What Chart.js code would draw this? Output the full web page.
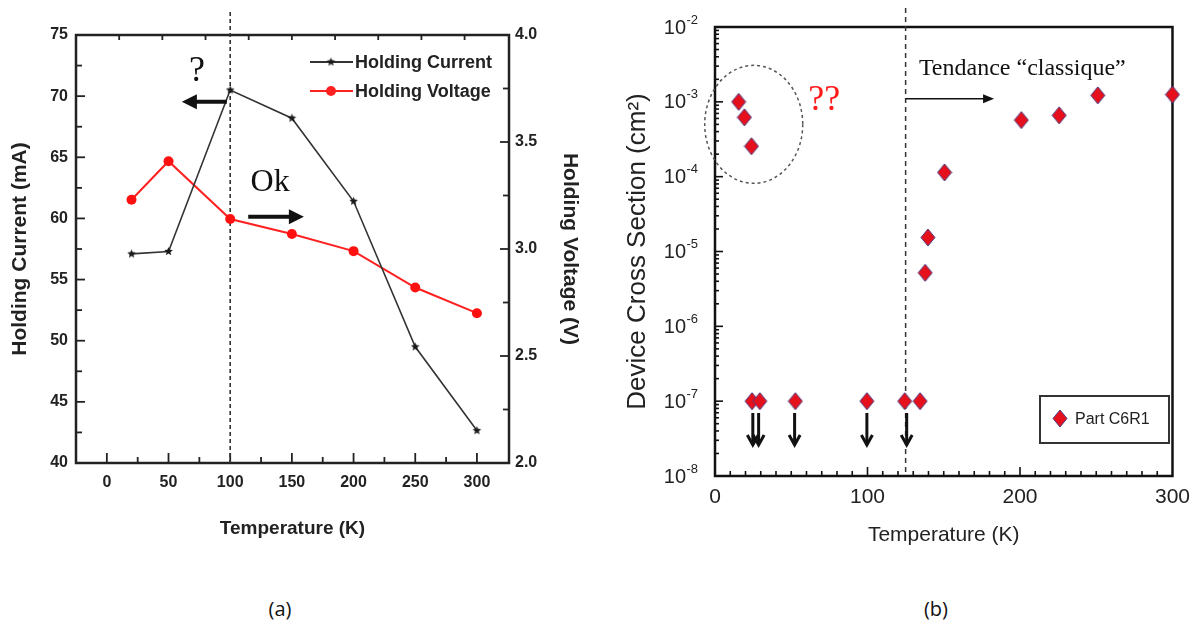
<!DOCTYPE html>
<html>
<head>
<meta charset="utf-8">
<script src="https://cdn.jsdelivr.net/npm/chart.js@4.4.1/dist/chart.umd.min.js"></script>
<style>
  html, body { margin: 0; padding: 0; background: #fff; }
  #wrap { position: relative; width: 1199px; height: 626px; overflow: hidden; background: #fff; }
  #chartA { position: absolute; left: 0; top: 0; }
  #chartB { position: absolute; left: 600px; top: 0; }
  .cap { position: absolute; top: 595px; width: 60px; text-align: center; font: 20px "Open Sans", sans-serif; color: #111; }
</style>
</head>
<body>
<div id="wrap">
  <canvas id="chartA" width="600" height="560"></canvas>
  <canvas id="chartB" width="599" height="560"></canvas>
  <div class="cap" style="left:250px">(a)</div>
  <div class="cap" style="left:906px">(b)</div>
</div>
<script>
// ---- data, panel (a)
const tempA = [20, 50, 100, 150, 200, 250, 300];
const holdingCurrent = [57.1, 57.3, 70.5, 68.2, 61.4, 49.5, 42.65];
const holdingVoltage = [3.23, 3.41, 3.14, 3.07, 2.99, 2.82, 2.70];
const xTicksA = [0, 50, 100, 150, 200, 250, 300];
const yTicksCurrent = [40, 45, 50, 55, 60, 65, 70, 75];
const yTicksVoltage = [2.0, 2.5, 3.0, 3.5, 4.0];
const topTicksA = [10, 45, 80, 115, 150, 185, 220, 255, 290];

// ---- data, panel (b)
const tempB = [15.5, 19.3, 23.9, 137.8, 139.6, 150.5, 200.9, 225.7, 251, 300];
const crossSection = [1.0e-3, 6.2e-4, 2.55e-4, 5.2e-6, 1.54e-5, 1.14e-4, 5.7e-4, 6.6e-4, 1.22e-3, 1.25e-3];
const tempLimit = [24.3, 29.4, 52.7, 99.6, 124.4, 134.5];
const crossLimit = [1e-7, 1e-7, 1e-7, 1e-7, 1e-7, 1e-7];
const arrowTemps = [24.8, 28.6, 52.2, 99.6, 125.7];
const xTicksB = [0, 100, 200, 300];
const yExpB = [-8, -7, -6, -5, -4, -3, -2];

const sans = '"Liberation Sans", Arial, Helvetica, sans-serif';
const serif = '"Liberation Serif", "Times New Roman", serif';
Chart.defaults.font.family = sans;
Chart.defaults.color = '#222';

function makeStar(r, color) {
    const c = document.createElement('canvas');
    const s = Math.ceil(r * 2 + 2);
    c.width = s; c.height = s;
    const g = c.getContext('2d');
    g.translate(s / 2, s / 2);
    g.beginPath();
    for (let i = 0; i < 10; i++) {
        const rr = i % 2 ? r * 0.45 : r;
        const a = -Math.PI / 2 + i * Math.PI / 5;
        g.lineTo(rr * Math.cos(a), rr * Math.sin(a));
    }
    g.closePath();
    g.fillStyle = color;
    g.fill();
    return c;
}

function makeDiamond(w, h) {
    const c = document.createElement('canvas');
    c.width = w + 2; c.height = h + 2;
    const g = c.getContext('2d');
    g.beginPath();
    g.moveTo(1 + w / 2, 1);
    g.lineTo(1 + w, 1 + h / 2);
    g.lineTo(1 + w / 2, 1 + h);
    g.lineTo(1, 1 + h / 2);
    g.closePath();
    g.fillStyle = '#e6101c';
    g.fill();
    g.strokeStyle = '#4a3a80';
    g.lineWidth = 1;
    g.stroke();
    return c;
}

const starImg = makeStar(4.5, '#1a1a1a');
const diamondImg = makeDiamond(14, 17);

function line(ctx, x1, y1, x2, y2) {
    ctx.beginPath();
    ctx.moveTo(x1, y1);
    ctx.lineTo(x2, y2);
    ctx.stroke();
}

function fatArrow(ctx, x1, y, x2, shaft, headLen, headHalf) {
    const dir = Math.sign(x2 - x1);
    ctx.lineWidth = shaft;
    line(ctx, x1, y, x2 - dir * headLen * 0.8, y);
    ctx.beginPath();
    ctx.moveTo(x2, y);
    ctx.lineTo(x2 - dir * headLen, y - headHalf);
    ctx.lineTo(x2 - dir * headLen, y + headHalf);
    ctx.closePath();
    ctx.fill();
}

function mids(arr) {
    const out = [];
    for (let i = 0; i < arr.length - 1; i++) out.push((arr[i] + arr[i + 1]) / 2);
    return out;
}

// ---------- panel (a)
const panelA = {
    id: 'panelA',
    beforeDatasetsDraw(chart) {
        const {ctx, chartArea: a, scales: {x, y, y1}} = chart;
        ctx.save();
        ctx.strokeStyle = '#222';
        ctx.lineWidth = 1.8;
        xTicksA.forEach(v => line(ctx, x.getPixelForValue(v), a.bottom, x.getPixelForValue(v), a.bottom - 10));
        mids(xTicksA).forEach(v => line(ctx, x.getPixelForValue(v), a.bottom, x.getPixelForValue(v), a.bottom - 6));
        topTicksA.forEach(v => line(ctx, x.getPixelForValue(v), a.top, x.getPixelForValue(v), a.top + 5));
        yTicksCurrent.forEach(v => line(ctx, a.left, y.getPixelForValue(v), a.left + 9, y.getPixelForValue(v)));
        mids(yTicksCurrent).forEach(v => line(ctx, a.left, y.getPixelForValue(v), a.left + 6, y.getPixelForValue(v)));
        yTicksVoltage.forEach(v => line(ctx, a.right, y1.getPixelForValue(v), a.right - 9, y1.getPixelForValue(v)));
        mids(yTicksVoltage).forEach(v => line(ctx, a.right, y1.getPixelForValue(v), a.right - 6, y1.getPixelForValue(v)));
        ctx.lineWidth = 2.5;
        ctx.strokeRect(a.left, a.top, a.right - a.left, a.bottom - a.top);

        // dashed marker at 100 K
        ctx.strokeStyle = '#333';
        ctx.lineWidth = 1.6;
        ctx.setLineDash([4, 3]);
        line(ctx, x.getPixelForValue(100), 12, x.getPixelForValue(100), a.bottom);
        ctx.restore();
    },
    afterDraw(chart) {
        const {ctx, scales: {x, y}} = chart;
        ctx.save();
        // legend
        const rows = [
            {label: 'Holding Current', color: '#333', ly: 62, star: true},
            {label: 'Holding Voltage', color: '#ff2020', ly: 91, star: false}
        ];
        rows.forEach(r => {
            ctx.strokeStyle = r.color;
            ctx.lineWidth = r.star ? 2 : 1.8;
            line(ctx, 310, r.ly, 353, r.ly);
            if (r.star) {
                ctx.drawImage(starImg, 331 - starImg.width / 2, r.ly - starImg.height / 2);
            } else {
                ctx.fillStyle = r.color;
                ctx.beginPath();
                ctx.arc(331, r.ly, 5, 0, Math.PI * 2);
                ctx.fill();
            }
            ctx.fillStyle = '#222';
            ctx.font = 'bold 18px ' + sans;
            ctx.textBaseline = 'middle';
            ctx.textAlign = 'left';
            ctx.fillText(r.label, 355, r.ly + 1);
        });

        // annotations
        ctx.fillStyle = '#111';
        ctx.strokeStyle = '#111';
        ctx.textAlign = 'center';
        ctx.font = '36px ' + serif;
        ctx.fillText('?', x.getPixelForValue(73), y.getPixelForValue(72));
        fatArrow(ctx, x.getPixelForValue(97.3), y.getPixelForValue(69.55), x.getPixelForValue(60.8), 4, 15, 7.5);
        ctx.font = '32px ' + serif;
        ctx.fillText('Ok', x.getPixelForValue(132.4), y.getPixelForValue(62.9));
        fatArrow(ctx, x.getPixelForValue(114.6), y.getPixelForValue(60.14), x.getPixelForValue(159.7), 4, 15, 7.5);
        ctx.restore();
    }
};

const tickFontA = {size: 16, weight: 'bold'};
const titleFontA = {size: 21, weight: 'bold'};

new Chart(document.getElementById('chartA'), {
    type: 'line',
    data: {
        datasets: [{
            label: 'Holding Current',
            data: tempA.map((t, i) => ({x: t, y: holdingCurrent[i]})),
            yAxisID: 'y',
            borderColor: '#333',
            borderWidth: 1.6,
            pointStyle: starImg,
            tension: 0,
            clip: false
        }, {
            label: 'Holding Voltage',
            data: tempA.map((t, i) => ({x: t, y: holdingVoltage[i]})),
            yAxisID: 'y1',
            borderColor: '#ff2020',
            backgroundColor: '#ff1010',
            borderWidth: 2,
            pointRadius: 5,
            pointBorderWidth: 0,
            tension: 0,
            clip: false
        }]
    },
    options: {
        responsive: false,
        animation: false,
        events: [],
        layout: {padding: {top: 35, left: 0, right: 16, bottom: 0}},
        plugins: {legend: {display: false}, tooltip: {enabled: false}},
        scales: {
            x: {
                type: 'linear',
                min: -25,
                max: 326,
                grid: {display: false, drawTicks: false},
                border: {display: false},
                afterBuildTicks: s => { s.ticks = xTicksA.map(v => ({value: v})); },
                afterFit: s => { s.height = 97; },
                ticks: {padding: 10, maxRotation: 0, font: tickFontA, color: '#222'},
                title: {display: true, text: 'Temperature (K)', font: {size: 19, weight: 'bold'}, color: '#222', padding: {top: 0, bottom: 20}}
            },
            y: {
                type: 'linear',
                position: 'left',
                min: 40,
                max: 75,
                grid: {display: false, drawTicks: false},
                border: {display: false},
                afterBuildTicks: s => { s.ticks = yTicksCurrent.map(v => ({value: v})); },
                afterFit: s => { s.width = 76; },
                ticks: {padding: 8, font: tickFontA, color: '#222'},
                title: {display: true, text: 'Holding Current (mA)', font: titleFontA, color: '#222', padding: {top: 8, bottom: 0}}
            },
            y1: {
                type: 'linear',
                position: 'right',
                min: 2,
                max: 4,
                grid: {display: false, drawTicks: false},
                border: {display: false},
                afterBuildTicks: s => { s.ticks = yTicksVoltage.map(v => ({value: v})); },
                afterFit: s => { s.width = 75; },
                ticks: {padding: 6, font: tickFontA, color: '#222', callback: v => Number(v).toFixed(1)},
                title: {display: true, text: 'Holding Voltage (V)', font: titleFontA, color: '#222', padding: {top: 1.5, bottom: 0}}
            }
        }
    },
    plugins: [panelA]
});

// ---------- panel (b)
const panelB = {
    id: 'panelB',
    beforeDatasetsDraw(chart) {
        const {ctx, chartArea: a, scales: {x, y}} = chart;
        ctx.save();
        ctx.strokeStyle = '#111';
        ctx.lineWidth = 1.6;
        for (let v = 10; v < 300; v += 10) {
            const px = x.getPixelForValue(v);
            line(ctx, px, a.bottom, px, a.bottom - (v % 100 === 0 ? 9 : 5));
        }
        for (let e = yExpB[0]; e < yExpB[yExpB.length - 1]; e++) {
            for (let m = 1; m < 10; m++) {
                const py = y.getPixelForValue(m * Math.pow(10, e));
                line(ctx, a.left, py, a.left + (m === 1 ? 8 : 4), py);
            }
        }
        ctx.lineWidth = 2.5;
        ctx.strokeRect(a.left, a.top, a.right - a.left, a.bottom - a.top);

        // y labels 10^n
        ctx.fillStyle = '#222';
        ctx.textBaseline = 'middle';
        yExpB.forEach(e => {
            const py = y.getPixelForValue(Math.pow(10, e));
            ctx.font = '20px ' + sans;
            ctx.textAlign = 'right';
            ctx.fillText('10', 86, py + 1);
            ctx.font = '13px ' + sans;
            ctx.textAlign = 'left';
            ctx.fillText(String(e), 86.5, py - 7);
        });

        // dashed marker at 125 K
        ctx.strokeStyle = '#333';
        ctx.lineWidth = 1.5;
        ctx.setLineDash([5, 4]);
        const dx = x.getPixelForValue(125);
        line(ctx, dx, 8, dx, a.bottom);

        // ellipse round the low temperature points
        ctx.strokeStyle = '#555';
        ctx.setLineDash([3, 3]);
        ctx.beginPath();
        ctx.ellipse(x.getPixelForValue(25.4), y.getPixelForValue(5.0e-4), 49, 59, 0, 0, Math.PI * 2);
        ctx.stroke();
        ctx.setLineDash([]);
        ctx.restore();
    },
    afterDraw(chart) {
        const {ctx, scales: {x, y}} = chart;
        ctx.save();
        ctx.strokeStyle = '#111';
        ctx.fillStyle = '#111';

        // upper-limit arrows
        ctx.lineWidth = 3;
        arrowTemps.forEach(t => {
            const px = x.getPixelForValue(t);
            const y1 = y.getPixelForValue(6.95e-8);
            const y2 = y.getPixelForValue(2.6e-8);
            line(ctx, px, y1, px, y2);
            ctx.beginPath();
            ctx.moveTo(px - 5.5, y2 - 10);
            ctx.lineTo(px, y2);
            ctx.lineTo(px + 5.5, y2 - 10);
            ctx.stroke();
        });

        // trend arrow and text
        const ay = y.getPixelForValue(1.1e-3);
        fatArrow(ctx, x.getPixelForValue(125), ay, x.getPixelForValue(183), 1.5, 11, 4.5);
        ctx.font = '24px ' + serif;
        ctx.textAlign = 'left';
        ctx.textBaseline = 'middle';
        ctx.fillText('Tendance \u201cclassique\u201d', x.getPixelForValue(133.7), y.getPixelForValue(2.8e-3));

        ctx.fillStyle = '#ff1a1a';
        ctx.font = '36px ' + serif;
        ctx.textAlign = 'center';
        ctx.fillText('??', x.getPixelForValue(71.7), y.getPixelForValue(1.05e-3));

        // legend box
        ctx.strokeStyle = '#333';
        ctx.lineWidth = 2;
        ctx.strokeRect(440, 396, 129, 47);
        ctx.drawImage(diamondImg, 460 - diamondImg.width / 2, 418.5 - diamondImg.height / 2);
        ctx.fillStyle = '#222';
        ctx.font = '16px ' + sans;
        ctx.textAlign = 'left';
        ctx.fillText('Part C6R1', 475, 420);
        ctx.restore();
    }
};

new Chart(document.getElementById('chartB'), {
    type: 'scatter',
    data: {
        datasets: [{
            label: 'Part C6R1',
            data: tempB.map((t, i) => ({x: t, y: crossSection[i]}))
                .concat(tempLimit.map((t, i) => ({x: t, y: crossLimit[i]}))),
            pointStyle: diamondImg,
            clip: false
        }]
    },
    options: {
        responsive: false,
        animation: false,
        events: [],
        layout: {padding: {top: 27, left: 0, right: 24, bottom: 0}},
        plugins: {legend: {display: false}, tooltip: {enabled: false}},
        scales: {
            x: {
                type: 'linear',
                min: 0,
                max: 300,
                grid: {display: false, drawTicks: false},
                border: {display: false},
                afterBuildTicks: s => { s.ticks = xTicksB.map(v => ({value: v})); },
                afterFit: s => { s.height = 84; },
                ticks: {padding: 9, maxRotation: 0, font: {size: 21}, color: '#222'},
                title: {display: true, text: 'Temperature (K)', font: {size: 21}, color: '#222', padding: {top: 0, bottom: 12}}
            },
            y: {
                type: 'logarithmic',
                min: 1e-8,
                max: 1e-2,
                grid: {display: false, drawTicks: false},
                border: {display: false},
                afterFit: s => { s.width = 115; },
                ticks: {display: false},
                title: {display: true, text: 'Device Cross Section (cm\u00b2)', font: {size: 26}, color: '#222', padding: {top: 22, bottom: 0}}
            }
        }
    },
    plugins: [panelB]
});
</script>
</body>
</html>
